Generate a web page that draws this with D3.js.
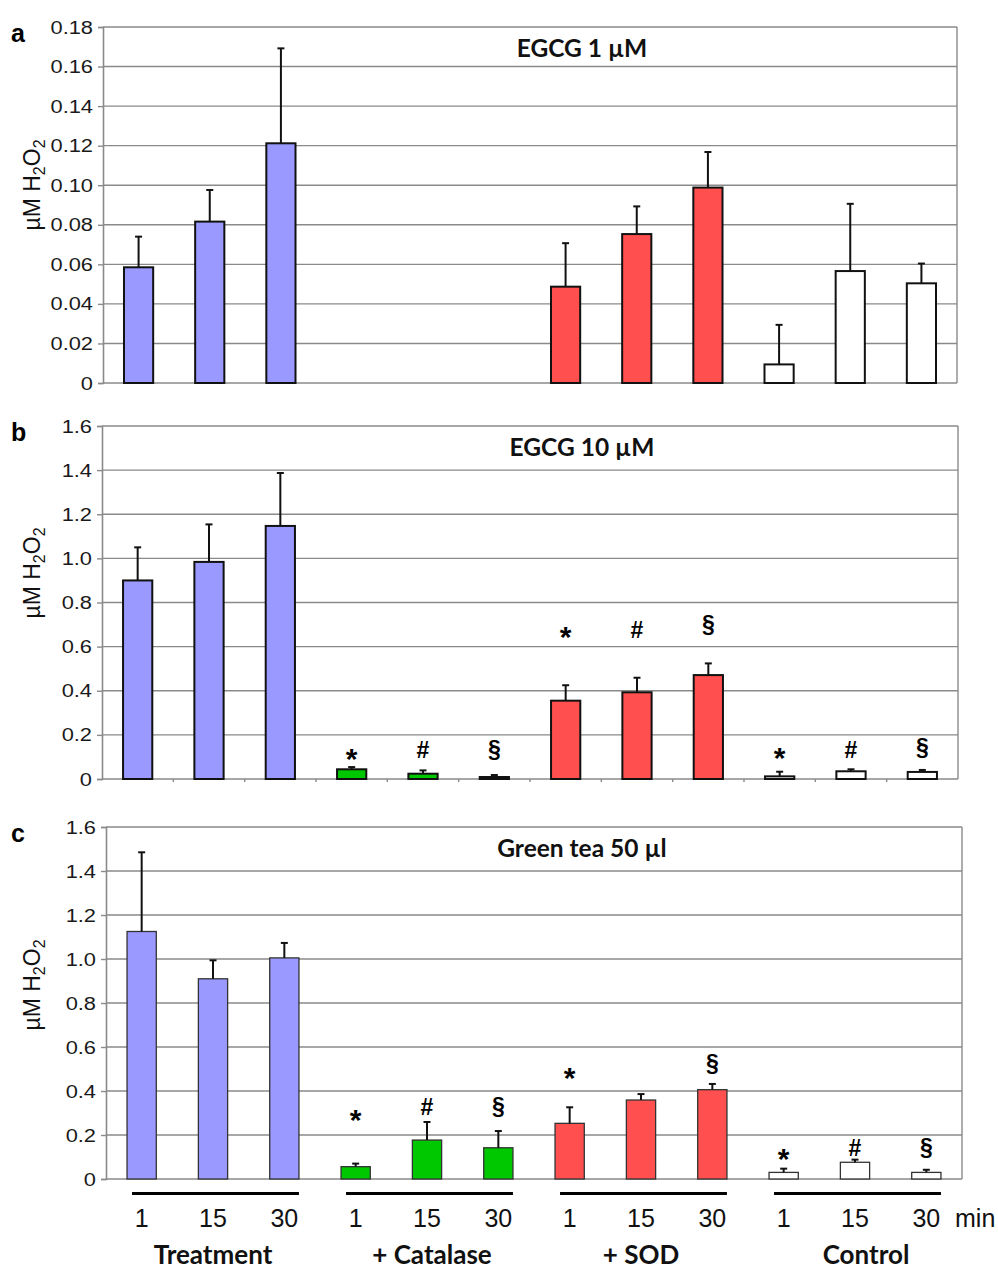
<!DOCTYPE html>
<html>
<head>
<meta charset="utf-8">
<script src="https://cdn.jsdelivr.net/npm/d3@7"></script>
<style>
  html, body { margin: 0; padding: 0; background: #fff; }
  svg { display: block; }
</style>
</head>
<body>
<svg id="chart" width="998" height="1269"></svg>
<script>
// ---------------- DATA ----------------
const groups = ["Treatment", "+ Catalase", "+ SOD", "Control"];
const times = ["1", "15", "30"];
const timeUnit = "min";
const yAxisTitle = "µM H";

const panelLetters = ["a", "b", "c"];
const panelTitles = ["EGCG 1 µM", "EGCG 10 µM", "Green tea 50 µl"];
const panelMax = [0.18, 1.6, 1.6];
const panelStep = [0.02, 0.2, 0.2];

// means (null = not measured)
const valuesA = [0.0585, 0.0816, 0.1212, null, null, null, 0.0487, 0.0753, 0.0988, 0.0094, 0.0566, 0.0504];
const valuesB = [0.900, 0.984, 1.147, 0.044, 0.024, 0.009, 0.355, 0.393, 0.471, 0.012, 0.035, 0.032];
const valuesC = [1.125, 0.910, 1.005, 0.056, 0.177, 0.142, 0.253, 0.359, 0.406, 0.030, 0.076, 0.030];

// standard deviations (upper error bars)
const errA = [0.0155, 0.016, 0.048, null, null, null, 0.022, 0.014, 0.018, 0.020, 0.034, 0.010];
const errB = [0.15, 0.17, 0.24, 0.010, 0.015, 0.009, 0.070, 0.066, 0.053, 0.021, 0.009, 0.009];
const errC = [0.36, 0.084, 0.068, 0.014, 0.082, 0.076, 0.073, 0.027, 0.026, 0.017, 0.012, 0.012];

// significance marks and their heights (data units)
const marksA = ["", "", "", "", "", "", "", "", "", "", "", ""];
const marksB = ["", "", "", "*", "#", "§", "*", "#", "§", "*", "#", "§"];
const marksC = ["", "", "", "*", "#", "§", "*", "", "§", "*", "#", "§"];
const markLevelA = [null, null, null, null, null, null, null, null, null, null, null, null];
const markLevelB = [null, null, null, 0.131, 0.131, 0.131, 0.684, 0.675, 0.697, 0.136, 0.131, 0.140];
const markLevelC = [null, null, null, 0.307, 0.330, 0.325, 0.497, null, 0.524, 0.130, 0.142, 0.142];

// ---------------- STYLE / LAYOUT ----------------
const barColorByGroup = ["#9999ff", "#00c800", "#ff4f4f", "#ffffff"];
const panels = [
  { values: valuesA, err: errA, marks: marksA, levels: markLevelA, left: 103, right: 957, top: 27, bottom: 383, fmt: ".2f", titleCY: 185, catTicks: false, barStroke: "#111", barSW: 2 },
  { values: valuesB, err: errB, marks: marksB, levels: markLevelB, left: 102, right: 958, top: 426, bottom: 779, fmt: ".1f", titleCY: 573, catTicks: true, barStroke: "#111", barSW: 2 },
  { values: valuesC, err: errC, marks: marksC, levels: markLevelC, left: 106, right: 962, top: 827, bottom: 1179, fmt: ".1f", titleCY: 985, catTicks: false, barStroke: "#333", barSW: 1.3 }
];
const gridColor = "#8a8a8a";
const sansFont = "'Liberation Sans', Arial, sans-serif";
const boldFont = "Lato, 'Open Sans', sans-serif";

const svg = d3.select("#chart");
const nCat = groups.length * times.length;

panels.forEach((p, pi) => {
  const g = svg.append("g");
  const x = d3.scaleBand().domain(d3.range(nCat)).range([p.left, p.right])
    .paddingInner(0.59).paddingOuter(0.295);
  const y = d3.scaleLinear().domain([0, panelMax[pi]]).range([p.bottom, p.top]);
  const tickVals = d3.range(0, panelMax[pi] + panelStep[pi] / 2, panelStep[pi]);
  p.x = x; p.y = y;

  // gridlines
  g.append("g").selectAll("line").data(tickVals.slice(1)).join("line")
    .attr("x1", p.left).attr("x2", p.right)
    .attr("y1", d => y(d)).attr("y2", d => y(d))
    .attr("stroke", gridColor).attr("stroke-width", 1.4);
  // right border
  g.append("line").attr("x1", p.right).attr("x2", p.right)
    .attr("y1", p.top).attr("y2", p.bottom)
    .attr("stroke", gridColor).attr("stroke-width", 1.4);

  // y axis
  const ax = g.append("g").attr("transform", `translate(${p.left},0)`)
    .call(d3.axisLeft(y).tickValues(tickVals).tickSize(5).tickPadding(8)
      .tickFormat(d => d === 0 ? "0" : d3.format(p.fmt)(d)));
  ax.select(".domain").attr("stroke", gridColor).attr("stroke-width", 1.6);
  ax.selectAll(".tick line").attr("stroke", gridColor).attr("stroke-width", 1.4);
  ax.selectAll(".tick text")
    .attr("font-family", sansFont).attr("font-size", 19).attr("fill", "#1a1a1a")
    .attr("x", -10 / 1.15).attr("transform", "scale(1.15,1)");

  // x baseline
  g.append("line").attr("x1", p.left).attr("x2", p.right)
    .attr("y1", y(0)).attr("y2", y(0))
    .attr("stroke", gridColor).attr("stroke-width", 1.6);
  if (p.catTicks) {
    g.append("g").selectAll("line").data(d3.range(1, nCat)).join("line")
      .attr("x1", d => p.left + d * x.step()).attr("x2", d => p.left + d * x.step())
      .attr("y1", y(0)).attr("y2", y(0) + 3)
      .attr("stroke", gridColor).attr("stroke-width", 1.4);
  }

  // bars
  const rows = p.values.map((v, i) => ({ i, v, e: p.err[i], m: p.marks[i], l: p.levels[i], grp: Math.floor(i / times.length) }))
    .filter(d => d.v !== null);
  g.append("g").selectAll("rect").data(rows).join("rect")
    .attr("x", d => x(d.i)).attr("width", x.bandwidth())
    .attr("y", d => y(d.v)).attr("height", d => y(0) - y(d.v))
    .attr("fill", d => barColorByGroup[d.grp])
    .attr("stroke", p.barStroke).attr("stroke-width", p.barSW);

  // error bars (upper)
  const eg = g.append("g").attr("stroke", "#111").attr("stroke-width", 2);
  eg.selectAll("line.v").data(rows).join("line").attr("class", "v")
    .attr("x1", d => x(d.i) + x.bandwidth() / 2).attr("x2", d => x(d.i) + x.bandwidth() / 2)
    .attr("y1", d => y(d.v)).attr("y2", d => y(d.v + d.e));
  eg.selectAll("line.c").data(rows).join("line").attr("class", "c")
    .attr("x1", d => x(d.i) + x.bandwidth() / 2 - 3.5).attr("x2", d => x(d.i) + x.bandwidth() / 2 + 3.5)
    .attr("y1", d => y(d.v + d.e)).attr("y2", d => y(d.v + d.e));

  // significance marks
  const markOffset = { "*": 0.62, "#": 0.36, "§": 0.30 };
  const markSize = { "*": 30, "#": 23, "§": 23 };
  g.append("g").selectAll("text").data(rows.filter(d => d.m && d.l !== null)).join("text")
    .attr("x", d => x(d.i) + x.bandwidth() / 2)
    .attr("y", d => y(d.l))
    .attr("dy", d => markOffset[d.m] + "em")
    .attr("text-anchor", "middle")
    .attr("font-family", sansFont).attr("font-weight", "bold")
    .attr("font-size", d => markSize[d.m])
    .text(d => d.m);

  // panel title
  g.append("text").attr("x", 582).attr("y", p.top + 29.7)
    .attr("text-anchor", "middle").attr("font-family", boldFont)
    .attr("font-weight", "bold").attr("font-size", 24.5).attr("fill", "#111")
    .text(panelTitles[pi]);

  // panel letter
  g.append("text").attr("x", 11).attr("y", p.top + 15)
    .attr("font-family", sansFont).attr("font-weight", "bold").attr("font-size", 25)
    .text(panelLetters[pi]);

  // y-axis title
  const t = g.append("text")
    .attr("transform", `translate(40,${p.titleCY}) rotate(-90)`)
    .attr("text-anchor", "middle")
    .attr("font-family", sansFont).attr("font-size", 23).attr("fill", "#111");
  t.append("tspan").text(yAxisTitle);
  t.append("tspan").attr("font-size", 16).attr("dy", 5).text("2");
  t.append("tspan").attr("dy", -5).text("O");
  t.append("tspan").attr("font-size", 16).attr("dy", 5).text("2");
});

// bottom category labels (under panel c)
const pc = panels[2];
const xb = pc.x;
const bottomG = svg.append("g");
const groupLabelDx = [0, 5, 0, 11];
groups.forEach((gname, gi) => {
  const first = gi * times.length, last = first + times.length - 1;
  bottomG.append("line")
    .attr("x1", xb(first) + 5).attr("x2", xb(last) + xb.bandwidth())
    .attr("y1", 1193.5).attr("y2", 1193.5)
    .attr("stroke", "#000").attr("stroke-width", 3);
  times.forEach((tm, ti) => {
    bottomG.append("text")
      .attr("x", xb(first + ti) + xb.bandwidth() / 2).attr("y", 1227)
      .attr("text-anchor", "middle").attr("font-family", sansFont)
      .attr("font-size", 25).attr("fill", "#111").text(tm);
  });
  bottomG.append("text")
    .attr("x", (xb(first) + xb(last) + xb.bandwidth()) / 2 + groupLabelDx[gi]).attr("y", 1264)
    .attr("text-anchor", "middle").attr("font-family", boldFont)
    .attr("font-weight", "bold").attr("font-size", 26).attr("fill", "#111").text(gname);
});
bottomG.append("text").attr("x", 955).attr("y", 1227)
  .attr("font-family", sansFont).attr("font-size", 25).attr("fill", "#111").text(timeUnit);
</script>
</body>
</html>
